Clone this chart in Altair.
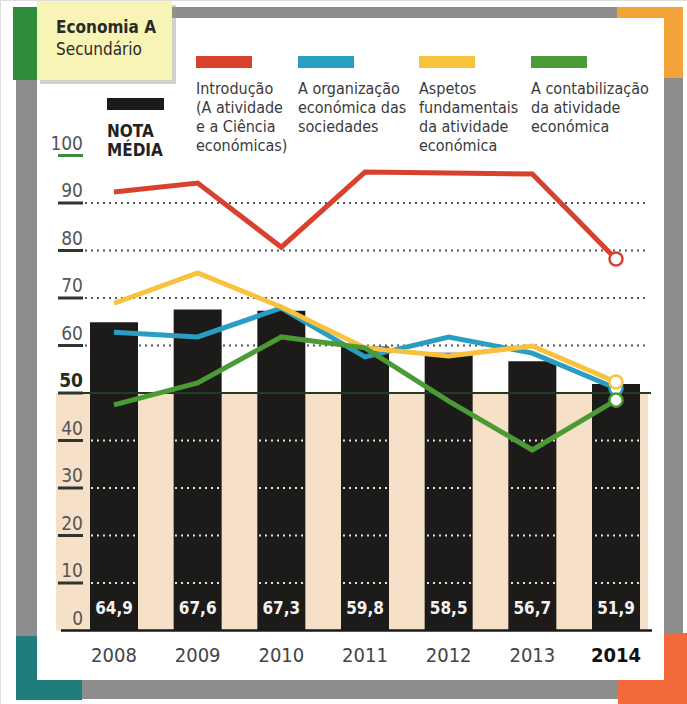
import altair as alt
import pandas as pd

# ---------------- data ----------------
years = [2008, 2009, 2010, 2011, 2012, 2013, 2014]
nota_media = [64.9, 67.6, 67.3, 59.8, 58.5, 56.7, 51.9]

series_names = [
    "Introdução\n(A atividade\ne a Ciência\neconómicas)",
    "A organização\neconómica das\nsociedades",
    "Aspetos\nfundamentais\nda atividade\neconómica",
    "A contabilização\nda atividade\neconómica",
]
series_keys = ["intro", "org", "aspetos", "contab"]
intro = [92.3, 94.2, 80.7, 96.5, 96.3, 96.1, 78.2]
org = [62.8, 61.8, 67.9, 57.6, 61.8, 58.4, 51.0]
aspetos = [68.9, 75.3, 68.1, 59.5, 57.8, 59.9, 52.3]
contab = [47.5, 52.1, 61.8, 59.5, 48.3, 38.0, 48.5]
series_values = [intro, org, aspetos, contab]
series_colors = ["#d9412f", "#2a9dc2", "#f8c23e", "#4b9b35"]

y_ticks = [0, 10, 20, 30, 40, 50, 60, 70, 80, 90, 100]
grid_upper = [60, 70, 80, 90]
grid_lower = [10, 20, 30, 40]

FONT = "'Liberation Sans Narrow', 'DejaVu Sans Condensed', 'Roboto', sans-serif"

# ---------------- frames ----------------
bars_df = pd.DataFrame({
    "year": years,
    "nota": nota_media,
    "lab": [f"{v:.1f}".replace(".", ",") for v in nota_media],
    "bold": [y == years[-1] for y in years],
})
rows = []
for k, vals in zip(series_keys, series_values):
    for yr, v in zip(years, vals):
        rows.append({"year": yr, "value": v, "series": k})
lines_df = pd.DataFrame(rows)
ends_df = lines_df[lines_df["year"] == years[-1]]

leg_x = [196, 298, 419, 531]
legend_df = pd.DataFrame({
    "series": series_keys,
    "name": series_names,
    "lx": leg_x,
    "lx2": [x + 56 for x in leg_x],
})
ticks_df = pd.DataFrame({"v": y_ticks, "lab": [str(t) for t in y_ticks]})
one = pd.DataFrame({"k": [0]})

xs = alt.Scale(domain=[2008, 2014], range=[114, 616], padding=0, nice=False, zero=False)
ys = alt.Scale(domain=[0, 100], range=[630.5, 155.5], nice=False)
cs = alt.Scale(domain=series_keys, range=series_colors)


def box(x, x2, y, y2, color, **kw):
    return alt.Chart(one).mark_rect(color=color, **kw).encode(
        x=alt.value(x), x2=alt.value(x2), y=alt.value(y), y2=alt.value(y2))


def label(text, x, y, size, weight="normal", color="#2a2a2a"):
    return alt.Chart(one).mark_text(
        text=text, font=FONT, fontSize=size, fontWeight=weight, color=color,
        align="left", baseline="alphabetic", lineBreak="\n", lineHeight=19,
    ).encode(x=alt.value(x), y=alt.value(y))


# frame
frame = [
    box(16, 683, 7, 699, "#8d8d8d"),
    box(13, 76, 7, 80, "#2f8c3c"),
    box(617, 683, 7, 78, "#f4a23a"),
    box(16, 82, 636, 700, "#1f7e7b"),
    box(618, 687, 633, 704, "#f36a3a"),
    box(37, 664, 18, 680, "#ffffff"),
]
note = [
    box(40, 176, 5, 84, "#9a9a88", opacity=0.45),
    box(37, 172, 1, 80, "#f8f4b6"),
    label("Economia A", 56, 33, 17, "bold"),
    label("Secundário", 56, 55, 17),
]

tan = alt.Chart(one).mark_rect(color="#f6e1c8").encode(
    x=alt.value(56), x2=alt.value(648),
    y=alt.Y("a:Q", scale=ys, axis=None), y2="b:Q",
).transform_calculate(a="50", b="0")

grid_up = alt.Chart(pd.DataFrame({"v": grid_upper})).mark_rule(
    color="#555555", strokeWidth=2, strokeDash=[2, 4]).encode(
    y=alt.Y("v:Q", scale=ys, axis=None), x=alt.value(85), x2=alt.value(648))

bars = alt.Chart(bars_df).mark_bar(size=48, color="#1d1b1a").encode(
    x=alt.X("year:Q", scale=xs, axis=None),
    y=alt.Y("nota:Q", scale=ys, axis=None),
)

grid_low = alt.Chart(pd.DataFrame({"v": grid_lower})).mark_rule(
    color="#e6e2dc", strokeWidth=2, strokeDash=[2, 4]).encode(
    y=alt.Y("v:Q", scale=ys, axis=None), x=alt.value(85), x2=alt.value(648))

line50 = alt.Chart(pd.DataFrame({"v": [50]})).mark_rule(
    color="#223c22", strokeWidth=2).encode(
    y=alt.Y("v:Q", scale=ys, axis=None), x=alt.value(58), x2=alt.value(651))
line0 = alt.Chart(pd.DataFrame({"v": [0]})).mark_rule(
    color="#1a1a1a", strokeWidth=2.5).encode(
    y=alt.Y("v:Q", scale=ys, axis=None), x=alt.value(61), x2=alt.value(652))

tick_rules = alt.Chart(ticks_df).transform_filter("datum.v > 0").mark_rule(
    strokeWidth=3).encode(
    y=alt.Y("v:Q", scale=ys, axis=None), x=alt.value(58), x2=alt.value(83),
    color=alt.condition("datum.v == 100", alt.value("#3f8a3f"), alt.value("#2e342e")),
)
tick_labels = alt.Chart(ticks_df).transform_filter("datum.v != 50").mark_text(
    font=FONT, fontSize=19, color="#555555", align="right", baseline="alphabetic", dy=-6,
).encode(y=alt.Y("v:Q", scale=ys, axis=None), x=alt.value(83), text="lab:N")
tick50 = alt.Chart(ticks_df).transform_filter("datum.v == 50").mark_text(
    font=FONT, fontSize=19, fontWeight="bold", color="#1f2e1f", align="right",
    baseline="alphabetic", dy=-6,
).encode(y=alt.Y("v:Q", scale=ys, axis=None), x=alt.value(83), text="lab:N")

bar_labels = alt.Chart(bars_df).mark_text(
    font=FONT, fontSize=17, fontWeight="bold", color="#f2f2f2", baseline="alphabetic",
).encode(x=alt.X("year:Q", scale=xs, axis=None), y=alt.value(614), text="lab:N")

year_labels = alt.Chart(bars_df).transform_filter("!datum.bold").mark_text(
    font=FONT, fontSize=20, color="#444444", baseline="alphabetic",
).encode(x=alt.X("year:Q", scale=xs, axis=None), y=alt.value(662), text="year:N")
year_last = alt.Chart(bars_df).transform_filter("datum.bold").mark_text(
    font=FONT, fontSize=20, fontWeight="bold", color="#111111", baseline="alphabetic",
).encode(x=alt.X("year:Q", scale=xs, axis=None), y=alt.value(662), text="year:N")

lines = alt.Chart(lines_df).mark_line(strokeWidth=5).encode(
    x=alt.X("year:Q", scale=xs, axis=None),
    y=alt.Y("value:Q", scale=ys, axis=None),
    color=alt.Color("series:N", scale=cs, legend=None),
    order=alt.Order("year:Q"),
)
ends = alt.Chart(ends_df).mark_point(
    filled=True, fill="white", size=170, strokeWidth=2.5, opacity=1).encode(
    x=alt.X("year:Q", scale=xs, axis=None),
    y=alt.Y("value:Q", scale=ys, axis=None),
    stroke=alt.Stroke("series:N", scale=cs, legend=None),
)

leg_sw = alt.Chart(legend_df).mark_rect().encode(
    x=alt.X("lx:Q", scale=None), x2="lx2:Q",
    y=alt.value(56), y2=alt.value(68),
    color=alt.Color("series:N", scale=cs, legend=None),
)
leg_txt = alt.Chart(legend_df).mark_text(
    font=FONT, fontSize=16, color="#3a3a3a", align="left", baseline="alphabetic",
    lineBreak="\n", lineHeight=19,
).encode(x=alt.X("lx:Q", scale=None), y=alt.value(94), text="name:N")

nota_sw = box(107, 164, 98, 110, "#1d1b1a")
nota_txt = label("NOTA\nMÉDIA", 107, 137, 17, "bold", "#222222")

chart = alt.layer(
    *frame, *note, tan, grid_up, bars, grid_low, line50, line0,
    tick_rules, tick_labels, tick50, bar_labels, year_labels, year_last,
    lines, ends, leg_sw, leg_txt, nota_sw, nota_txt,
).resolve_scale(color="shared").properties(
    width=687, height=704, padding=0, autosize=alt.AutoSizeParams(type="none"),
).configure_view(stroke=None).configure(background="white")

chart.save("out.html", embed_options={"renderer": "svg", "actions": False})
